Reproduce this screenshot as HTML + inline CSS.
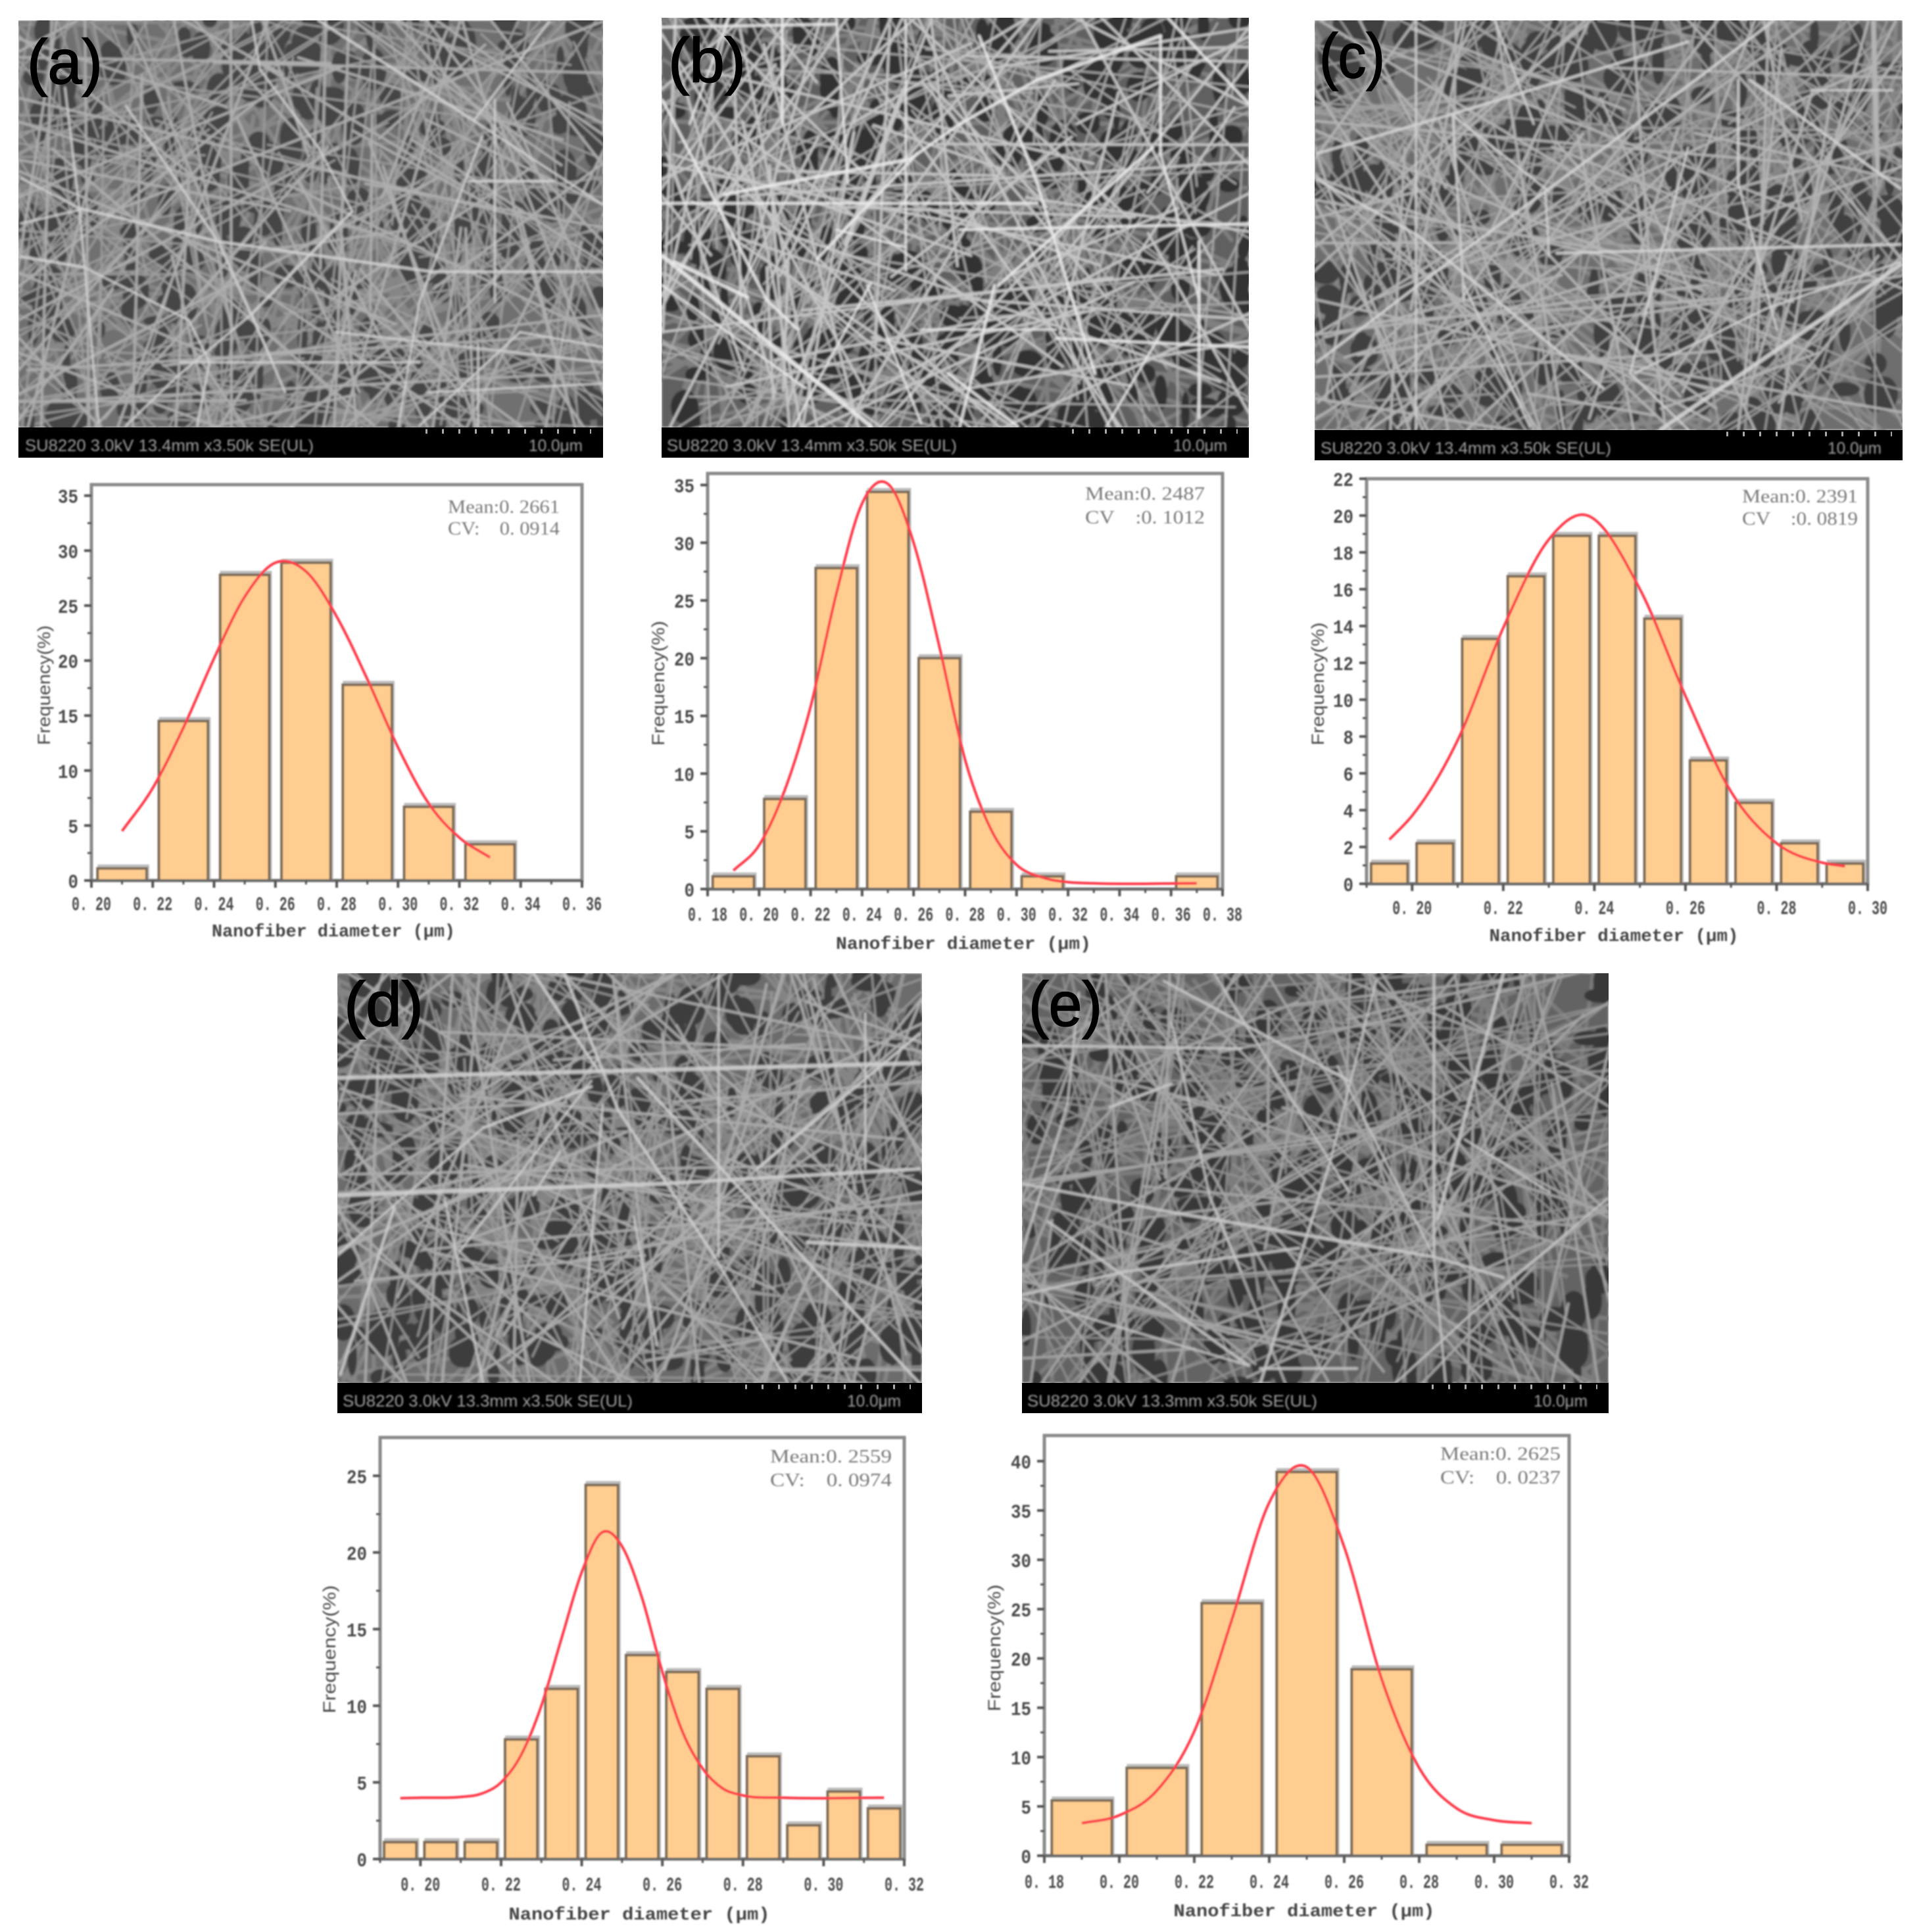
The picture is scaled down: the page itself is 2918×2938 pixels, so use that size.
<!DOCTYPE html>
<html lang="en">
<head>
<meta charset="utf-8">
<title>Nanofiber SEM images and diameter distributions</title>
<style>
html,body{margin:0;padding:0;background:#fff;}
svg{display:block;}
.tick{font-family:"Liberation Mono",monospace;font-size:30px;font-weight:bold;fill:#4a4a4a;}
.xtitle{font-family:"Liberation Mono",monospace;font-size:27px;font-weight:bold;fill:#444;text-anchor:middle;}
.ytitle{font-family:"Liberation Sans",sans-serif;font-size:27px;fill:#4a4a4a;text-anchor:middle;}
.stat{font-family:"Liberation Serif",serif;font-size:28px;fill:#7a7a7a;}
.strip{font-family:"Liberation Sans",sans-serif;font-size:25px;fill:#a0a0a0;}
.plabel{font-family:"Liberation Sans",sans-serif;font-size:96px;fill:#000;stroke:#000;stroke-width:1.5;}
</style>
</head>
<body>
<svg id="figure" xmlns="http://www.w3.org/2000/svg" width="2918" height="2938" viewBox="0 0 2918 2938">
<defs>
<filter id="soft-sem" x="0" y="0" width="1" height="1"><feGaussianBlur stdDeviation="1.7"/></filter>
<filter id="soft-chart" x="-0.05" y="-0.05" width="1.1" height="1.1"><feGaussianBlur stdDeviation="1.1"/></filter>
<filter id="soft-text" x="-0.05" y="-0.3" width="1.1" height="1.6"><feGaussianBlur stdDeviation="1.2"/></filter>
<clipPath id="clip-a"><rect x="28" y="31" width="889" height="619"/></clipPath>
<clipPath id="clip-b"><rect x="1006" y="27" width="893" height="623"/></clipPath>
<clipPath id="clip-c"><rect x="1999" y="31" width="894" height="623"/></clipPath>
<clipPath id="clip-d"><rect x="513" y="1480" width="889" height="623"/></clipPath>
<clipPath id="clip-e"><rect x="1554" y="1480" width="892" height="623"/></clipPath>
</defs>
<rect x="0" y="0" width="2918" height="2938" fill="#ffffff"/>

<g>
  <g id="sem-a" clip-path="url(#clip-a)"></g>
  <rect x="28" y="650" width="889" height="46" fill="#000"/>
  <line x1="647" y1="656" x2="899" y2="656" stroke="#aaa" stroke-width="7" stroke-dasharray="3 22"/>
  <text class="strip" filter="url(#soft-text)" x="38" y="686" textLength="439" lengthAdjust="spacingAndGlyphs">SU8220 3.0kV 13.4mm x3.50k SE(UL)</text>
  <text class="strip" filter="url(#soft-text)" x="804" y="686" textLength="82" lengthAdjust="spacingAndGlyphs">10.0μm</text>
  <text class="plabel" x="41" y="127" textLength="115" lengthAdjust="spacingAndGlyphs">(a)</text>
  <g id="chart-a" filter="url(#soft-chart)">
    <text class="xtitle" x="507" y="1424" textLength="370" lengthAdjust="spacingAndGlyphs">Nanofiber diameter (μm)</text>
    <text class="ytitle" transform="translate(76 1042) rotate(-90)" textLength="182" lengthAdjust="spacingAndGlyphs">Frequency(%)</text>
    <text class="stat" x="681" y="780" textLength="170" lengthAdjust="spacingAndGlyphs">Mean:0. 2661</text>
    <text class="stat" x="681" y="813" textLength="170" lengthAdjust="spacingAndGlyphs" xml:space="preserve">CV:    0. 0914</text>
  </g>
</g>

<g>
  <g id="sem-b" clip-path="url(#clip-b)"></g>
  <rect x="1006" y="650" width="893" height="46" fill="#000"/>
  <line x1="1630" y1="656" x2="1882" y2="656" stroke="#aaa" stroke-width="7" stroke-dasharray="3 22"/>
  <text class="strip" filter="url(#soft-text)" x="1014" y="686" textLength="441" lengthAdjust="spacingAndGlyphs">SU8220 3.0kV 13.4mm x3.50k SE(UL)</text>
  <text class="strip" filter="url(#soft-text)" x="1784" y="686" textLength="82" lengthAdjust="spacingAndGlyphs">10.0μm</text>
  <text class="plabel" x="1016" y="125" textLength="118" lengthAdjust="spacingAndGlyphs">(b)</text>
  <g id="chart-b" filter="url(#soft-chart)">
    <text class="xtitle" x="1465" y="1443" textLength="388" lengthAdjust="spacingAndGlyphs">Nanofiber diameter (μm)</text>
    <text class="ytitle" transform="translate(1010 1039) rotate(-90)" textLength="190" lengthAdjust="spacingAndGlyphs">Frequency(%)</text>
    <text class="stat" x="1650" y="760" textLength="182" lengthAdjust="spacingAndGlyphs">Mean:0. 2487</text>
    <text class="stat" x="1650" y="796" textLength="182" lengthAdjust="spacingAndGlyphs" xml:space="preserve">CV    :0. 1012</text>
  </g>
</g>

<g>
  <g id="sem-c" clip-path="url(#clip-c)"></g>
  <rect x="1999" y="654" width="894" height="46" fill="#000"/>
  <line x1="2625" y1="660" x2="2877" y2="660" stroke="#aaa" stroke-width="7" stroke-dasharray="3 22"/>
  <text class="strip" filter="url(#soft-text)" x="2008" y="690" textLength="442" lengthAdjust="spacingAndGlyphs">SU8220 3.0kV 13.4mm x3.50k SE(UL)</text>
  <text class="strip" filter="url(#soft-text)" x="2779" y="690" textLength="82" lengthAdjust="spacingAndGlyphs">10.0μm</text>
  <text class="plabel" x="2006" y="118" textLength="100" lengthAdjust="spacingAndGlyphs">(c)</text>
  <g id="chart-c" filter="url(#soft-chart)">
    <text class="xtitle" x="2454" y="1431" textLength="379" lengthAdjust="spacingAndGlyphs">Nanofiber diameter (μm)</text>
    <text class="ytitle" transform="translate(2013 1040) rotate(-90)" textLength="187" lengthAdjust="spacingAndGlyphs">Frequency(%)</text>
    <text class="stat" x="2649" y="764" textLength="176" lengthAdjust="spacingAndGlyphs">Mean:0. 2391</text>
    <text class="stat" x="2649" y="798" textLength="176" lengthAdjust="spacingAndGlyphs" xml:space="preserve">CV    :0. 0819</text>
  </g>
</g>

<g>
  <g id="sem-d" clip-path="url(#clip-d)"></g>
  <rect x="513" y="2103" width="889" height="46" fill="#000"/>
  <line x1="1133" y1="2109" x2="1385" y2="2109" stroke="#aaa" stroke-width="7" stroke-dasharray="3 22"/>
  <text class="strip" filter="url(#soft-text)" x="521" y="2139" textLength="441" lengthAdjust="spacingAndGlyphs">SU8220 3.0kV 13.3mm x3.50k SE(UL)</text>
  <text class="strip" filter="url(#soft-text)" x="1288" y="2139" textLength="82" lengthAdjust="spacingAndGlyphs">10.0μm</text>
  <text class="plabel" x="523" y="1560" textLength="121" lengthAdjust="spacingAndGlyphs">(d)</text>
  <g id="chart-d" filter="url(#soft-chart)">
    <text class="xtitle" x="972" y="2919" textLength="397" lengthAdjust="spacingAndGlyphs">Nanofiber diameter (μm)</text>
    <text class="ytitle" transform="translate(510 2508) rotate(-90)" textLength="195" lengthAdjust="spacingAndGlyphs">Frequency(%)</text>
    <text class="stat" x="1171" y="2224" textLength="185" lengthAdjust="spacingAndGlyphs">Mean:0. 2559</text>
    <text class="stat" x="1171" y="2260" textLength="185" lengthAdjust="spacingAndGlyphs" xml:space="preserve">CV:    0. 0974</text>
  </g>
</g>

<g>
  <g id="sem-e" clip-path="url(#clip-e)"></g>
  <rect x="1554" y="2103" width="892" height="46" fill="#000"/>
  <line x1="2177" y1="2109" x2="2429" y2="2109" stroke="#aaa" stroke-width="7" stroke-dasharray="3 22"/>
  <text class="strip" filter="url(#soft-text)" x="1562" y="2139" textLength="441" lengthAdjust="spacingAndGlyphs">SU8220 3.0kV 13.3mm x3.50k SE(UL)</text>
  <text class="strip" filter="url(#soft-text)" x="2332" y="2139" textLength="82" lengthAdjust="spacingAndGlyphs">10.0μm</text>
  <text class="plabel" x="1564" y="1560" textLength="112" lengthAdjust="spacingAndGlyphs">(e)</text>
  <g id="chart-e" filter="url(#soft-chart)">
    <text class="xtitle" x="1983" y="2914" textLength="397" lengthAdjust="spacingAndGlyphs">Nanofiber diameter (μm)</text>
    <text class="ytitle" transform="translate(1521 2506) rotate(-90)" textLength="193" lengthAdjust="spacingAndGlyphs">Frequency(%)</text>
    <text class="stat" x="2190" y="2220" textLength="183" lengthAdjust="spacingAndGlyphs">Mean:0. 2625</text>
    <text class="stat" x="2190" y="2256" textLength="183" lengthAdjust="spacingAndGlyphs" xml:space="preserve">CV:    0. 0237</text>
  </g>
</g>
</svg>

<script>
// ---------- chart data ----------
const aBinCenters = [0.21,0.23,0.25,0.27,0.29,0.31,0.33];
const aFrequency = [1.1,14.5,27.8,28.9,17.8,6.7,3.3];
const aCurveDiameter = [0.21,0.22,0.23,0.24,0.25,0.26,0.27,0.28,0.29,0.30,0.31,0.32,0.33];
const aCurveFrequency = [4.5,8.4,13.9,20.2,25.8,28.9,28.1,24,18.3,12.1,7,3.9,2.1];
const aXTickLabels = ['0. 20','0. 22','0. 24','0. 26','0. 28','0. 30','0. 32','0. 34','0. 36'];
const aXMinorTicks = [0.21,0.23,0.25,0.27,0.29,0.31,0.33,0.35];
const aYTickLabels = ['0','5','10','15','20','25','30','35'];
const aYMinorTicks = [2.5,7.5,12.5,17.5,22.5,27.5,32.5];

const bBinCenters = [0.19,0.21,0.23,0.25,0.27,0.29,0.31,0.33,0.35,0.37];
const bFrequency = [1.1,7.8,27.8,34.4,20,6.7,1.1,0,0,1.1];
const bCurveDiameter = [0.19,0.20,0.21,0.22,0.23,0.24,0.25,0.26,0.27,0.28,0.29,0.30,0.31,0.32,0.33,0.37];
const bCurveFrequency = [1.6,3.8,8.6,15.8,25.6,33.4,35.1,30,21,11.2,5.2,2.1,1,0.6,0.5,0.5];
const bXTickLabels = ['0. 18','0. 20','0. 22','0. 24','0. 26','0. 28','0. 30','0. 32','0. 34','0. 36','0. 38'];
const bXMinorTicks = [0.19,0.21,0.23,0.25,0.27,0.29,0.31,0.33,0.35,0.37];
const bYTickLabels = ['0','5','10','15','20','25','30','35'];
const bYMinorTicks = [2.5,7.5,12.5,17.5,22.5,27.5,32.5];

const cBinCenters = [0.195,0.205,0.215,0.225,0.235,0.245,0.255,0.265,0.275,0.285,0.295];
const cFrequency = [1.1,2.2,13.3,16.7,18.9,18.9,14.4,6.7,4.4,2.2,1.1];
const cCurveDiameter = [0.195,0.20,0.21,0.22,0.23,0.2375,0.25,0.26,0.27,0.28,0.29,0.295];
const cCurveFrequency = [2.4,3.7,7.8,13.9,18.7,20.05,16,10.2,5,2.2,1.15,0.95];
const cXTickLabels = ['0. 20','0. 22','0. 24','0. 26','0. 28','0. 30'];
const cXMinorTicks = [0.19,0.21,0.23,0.25,0.27,0.29];
const cYTickLabels = ['0','2','4','6','8','10','12','14','16','18','20','22'];
const cYMinorTicks = [1,3,5,7,9,11,13,15,17,19,21];

const dBinCenters = [0.195,0.205,0.215,0.225,0.235,0.245,0.255,0.265,0.275,0.285,0.295,0.305,0.315];
const dFrequency = [1.1,1.1,1.1,7.8,11.1,24.4,13.3,12.2,11.1,6.7,2.2,4.4,3.3];
const dCurveDiameter = [0.195,0.20,0.21,0.215,0.22,0.225,0.23,0.235,0.24,0.245,0.25,0.255,0.26,0.265,0.27,0.275,0.28,0.29,0.315];
const dCurveFrequency = [3.97,4,4.05,4.25,5,6.8,10,14.4,18.7,21.3,20.4,17,12.2,8.3,5.9,4.6,4.15,4,4];
const dXTickLabels = ['0. 20','0. 22','0. 24','0. 26','0. 28','0. 30','0. 32'];
const dXMinorTicks = [0.19,0.21,0.23,0.25,0.27,0.29,0.31];
const dYTickLabels = ['0','5','10','15','20','25'];
const dYMinorTicks = [2.5,7.5,12.5,17.5,22.5];

const eBinCenters = [0.19,0.21,0.23,0.25,0.27,0.29,0.31];
const eFrequency = [5.6,8.9,25.6,38.9,18.9,1.1,1.1];
const eCurveDiameter = [0.19,0.20,0.21,0.22,0.23,0.24,0.25,0.26,0.27,0.28,0.29,0.30,0.31];
const eCurveFrequency = [3.3,4.1,6.6,12.6,23.9,35.8,39.4,31.3,17.9,8.9,4.8,3.6,3.3];
const eXTickLabels = ['0. 18','0. 20','0. 22','0. 24','0. 26','0. 28','0. 30','0. 32'];
const eXMinorTicks = [0.19,0.21,0.23,0.25,0.27,0.29,0.31];
const eYTickLabels = ['0','5','10','15','20','25','30','35','40'];
const eYMinorTicks = [2.5,7.5,12.5,17.5,22.5,27.5,32.5,37.5];

const NS = 'http://www.w3.org/2000/svg';
function make(parent, tag, attrs) {
  const el = document.createElementNS(NS, tag);
  for (const k in attrs) el.setAttribute(k, attrs[k]);
  parent.appendChild(el);
  return el;
}

function drawChart(c) {
  const root = document.getElementById('chart-' + c.id);
  const xAt = v => c.left + (v - c.xMin) / (c.xMax - c.xMin) * (c.right - c.left);
  const yAt = v => c.bottom - (v - 0) / (c.yMax - 0) * (c.bottom - c.top);

  const frame = make(root, 'rect', {x: c.left, y: c.top, width: c.right - c.left, height: c.bottom - c.top, fill: 'none', stroke: '#8a8a8a', 'stroke-width': 5});
  
  

  c.bins.forEach((center, i) => {
    const v = c.freq[i];
    if (v <= 0) return;
    const x0 = xAt(center - c.binWidth / 2), x1 = xAt(center + c.binWidth / 2);
    const shade = make(root, 'rect', {x: x0 + 2, y: yAt(v) - 4, width: x1 - x0, height: yAt(0) - yAt(v) + 4, fill: 'none', stroke: '#bdbdbd', 'stroke-width': 4});
    
    
    const bar = make(root, 'rect', {x: x0, y: yAt(v), width: x1 - x0, height: yAt(0) - yAt(v), fill: '#ffcd90', stroke: '#7c6a56', 'stroke-width': 4});
    
    
  });

  const baseline = make(root, 'line', {x1: c.left, y1: c.bottom, x2: c.right, y2: c.bottom, stroke: '#6a6a6a', 'stroke-width': 4});
  
  

  c.xLabels.forEach(label => {
    const v = parseFloat(label.replace(/\s/g, ''));
    const t = make(root, 'line', {x1: xAt(v), y1: c.bottom, x2: xAt(v), y2: c.bottom + 11, stroke: '#555', 'stroke-width': 4});
    
    
    const txt = make(root, 'text', {x: xAt(v), y: c.bottom + c.xLabelOffset + 11, 'text-anchor': 'middle', class: 'tick', textLength: 60, lengthAdjust: 'spacingAndGlyphs', 'xml:space': 'preserve'});
    
    
    txt.textContent = label;
  });
  c.xMinor.forEach(v => {
    const t = make(root, 'line', {x1: xAt(v), y1: c.bottom, x2: xAt(v), y2: c.bottom + 6, stroke: '#555', 'stroke-width': 3});
    
    
  });
  c.yLabels.forEach(label => {
    const v = Number(label);
    const t = make(root, 'line', {x1: c.left - 11, y1: yAt(v), x2: c.left, y2: yAt(v), stroke: '#555', 'stroke-width': 4});
    
    
    const txt = make(root, 'text', {x: c.left - 20, y: yAt(v) + 11, 'text-anchor': 'end', class: 'tick', textLength: label.length * 15.5, lengthAdjust: 'spacingAndGlyphs'});
    
    
    txt.textContent = label;
  });
  c.yMinor.forEach(v => {
    const t = make(root, 'line', {x1: c.left - 6, y1: yAt(v), x2: c.left, y2: yAt(v), stroke: '#555', 'stroke-width': 3});
    
    
  });

  const pts = c.curveX.map((x, i) => [xAt(x), yAt(c.curveY[i])]);
  const n = pts.length;
  const chord = i => (pts[i + 1][1] - pts[i][1]) / (pts[i + 1][0] - pts[i][0]);
  const slope = i => {
    if (i === 0) return chord(0);
    if (i === n - 1) return chord(n - 2);
    const h0 = pts[i][0] - pts[i - 1][0], h1 = pts[i + 1][0] - pts[i][0];
    return (h1 * chord(i - 1) + h0 * chord(i)) / (h0 + h1);
  };
  let d = 'M' + pts[0][0].toFixed(1) + ' ' + pts[0][1].toFixed(1);
  for (let i = 0; i < n - 1; i++) {
    const h = pts[i + 1][0] - pts[i][0];
    d += ' C' + (pts[i][0] + h / 3).toFixed(1) + ' ' + (pts[i][1] + slope(i) * h / 3).toFixed(1) + ' ' +
      (pts[i + 1][0] - h / 3).toFixed(1) + ' ' + (pts[i + 1][1] - slope(i + 1) * h / 3).toFixed(1) + ' ' +
      pts[i + 1][0].toFixed(1) + ' ' + pts[i + 1][1].toFixed(1);
  }
  const curve = make(root, 'path', {d: d, fill: 'none', stroke: '#ff3a4a', 'stroke-width': 4});
  
  
}

drawChart({id:'a', left:139, right:885, top:737, bottom:1339, xMin:0.20, xMax:0.36, yMax:36, binWidth:0.016, xLabelOffset:34,
  bins:aBinCenters, freq:aFrequency, curveX:aCurveDiameter, curveY:aCurveFrequency, xLabels:aXTickLabels, xMinor:aXMinorTicks, yLabels:aYTickLabels, yMinor:aYMinorTicks});
drawChart({id:'b', left:1076, right:1859, top:720, bottom:1352, xMin:0.18, xMax:0.38, yMax:36, binWidth:0.016, xLabelOffset:37,
  bins:bBinCenters, freq:bFrequency, curveX:bCurveDiameter, curveY:bCurveFrequency, xLabels:bXTickLabels, xMinor:bXMinorTicks, yLabels:bYTickLabels, yMinor:bYMinorTicks});
drawChart({id:'c', left:2078, right:2840, top:728, bottom:1344, xMin:0.19, xMax:0.30, yMax:22, binWidth:0.008, xLabelOffset:35,
  bins:cBinCenters, freq:cFrequency, curveX:cCurveDiameter, curveY:cCurveFrequency, xLabels:cXTickLabels, xMinor:cXMinorTicks, yLabels:cYTickLabels, yMinor:cYMinorTicks});
drawChart({id:'d', left:578, right:1375, top:2186, bottom:2827, xMin:0.19, xMax:0.32, yMax:27.5, binWidth:0.008, xLabelOffset:37,
  bins:dBinCenters, freq:dFrequency, curveX:dCurveDiameter, curveY:dCurveFrequency, xLabels:dXTickLabels, xMinor:dXMinorTicks, yLabels:dYTickLabels, yMinor:dYMinorTicks});
drawChart({id:'e', left:1588, right:2386, top:2183, bottom:2822, xMin:0.18, xMax:0.32, yMax:42.6, binWidth:0.016, xLabelOffset:38,
  bins:eBinCenters, freq:eFrequency, curveX:eCurveDiameter, curveY:eCurveFrequency, xLabels:eXTickLabels, xMinor:eXMinorTicks, yLabels:eYTickLabels, yMinor:eYMinorTicks});

// ---------- SEM photo texture (decorative, hand-traced main fibers plus seeded fine mesh) ----------
const tracedA = [[155,290,190,700,3],[190,700,235,1400,3],[190,690,520,800,4],[50,590,190,690,3],[190,695,50,740,3],[300,350,520,800,3],[520,800,650,1200,3],[760,68,1130,400,4],[1130,400,1440,680,3],[600,68,620,230,3],[620,230,760,490,3],[760,490,840,700,3],[50,850,200,885,4],[200,885,450,1060,3],[450,1060,500,1200,3],[500,1200,470,1410,3],[1030,900,1440,900,4],[1120,600,1320,600,4],[1180,330,1180,1000,3],[1150,450,1000,1000,3],[1000,1000,950,1410,3],[840,700,600,1040,4],[600,1040,420,1250,3],[420,1250,300,1410,3],[600,1040,680,1300,3],[520,800,1030,900,4],[1310,70,1130,400,3],[1140,1140,1140,1410,3],[800,1100,1440,1200,3],[1020,1300,1440,1270,3],[1000,1410,1240,1100,3],[1240,1100,1440,1150,3],[430,1200,1000,1200,3]];
const tracedB = [[30,320,300,1000,4],[300,1000,380,1100,4],[30,850,570,1430,6],[30,950,400,1300,3],[60,870,250,990,5],[190,640,670,520,5],[670,520,800,400,4],[800,400,1000,250,4],[1000,250,1320,100,5],[1340,40,1548,330,4],[850,100,1000,600,4],[1000,600,1150,1250,4],[480,40,510,600,3],[660,40,660,900,3],[1320,100,1320,500,4],[1320,500,1420,1000,3],[430,860,690,500,4],[30,670,1000,670,4],[800,760,1548,740,4],[1420,800,1420,1400,4],[570,940,370,1430,3],[560,950,700,1420,3],[770,1250,950,1430,4],[890,950,800,1430,4],[1300,480,900,950,4],[700,1100,1050,1100,3],[1050,1130,1548,1160,4],[1350,1050,1180,1430,3],[200,40,100,400,3],[340,40,340,400,4],[30,70,480,60,4],[660,820,480,760,3]];
const tracedC = [[40,1210,400,850,4],[400,850,630,630,4],[630,630,1040,230,4],[1040,230,1220,50,4],[40,500,380,370,4],[380,370,1000,120,4],[40,590,300,780,4],[300,780,780,1300,4],[390,370,640,630,3],[930,1440,1550,880,6],[295,50,295,1440,3],[630,630,640,850,3],[1130,250,1130,600,4],[1130,600,1230,1100,3],[1160,250,1550,620,4],[660,840,1550,810,4],[860,1250,1200,1030,3],[1200,1030,1550,870,3],[1000,480,850,1250,3],[850,1250,1000,1440,3],[500,50,600,400,3],[390,370,420,1000,3],[1320,285,1530,285,3],[420,950,590,1430,3]];
const tracedD = [[610,33,750,500,4],[750,500,1000,1000,4],[1000,1000,1190,1430,3],[25,390,1530,340,6],[25,790,870,750,6],[870,750,1530,700,5],[800,390,1530,1430,4],[340,980,680,400,3],[25,990,190,800,3],[190,800,400,560,3],[400,560,680,420,4],[170,830,30,1400,4],[300,800,400,1430,3],[1390,170,1390,700,3],[1530,240,1110,700,4],[1240,950,1530,970,5],[1010,40,1010,1000,3],[710,480,650,1430,3],[600,640,530,790,3],[790,860,850,1300,3],[530,33,700,370,4]];
const tracedE = [[400,60,880,400,4],[530,33,880,780,3],[30,280,600,290,4],[1100,33,1100,1000,4],[1100,1000,1130,1430,3],[1280,33,1110,870,5],[950,60,830,680,3],[830,680,650,1430,4],[30,750,430,850,4],[430,850,1100,1000,5],[1100,1000,1280,1070,4],[180,100,150,480,3],[150,480,30,1000,3],[30,1130,300,1050,4],[300,1050,750,970,4],[100,880,620,1370,4],[30,1140,620,1370,3],[650,1380,900,1380,4],[1180,600,1400,780,3],[1550,800,1200,1190,3],[1200,1190,1000,1430,3],[420,200,520,800,3],[520,800,600,1050,3],[850,350,1100,1000,3],[260,490,420,410,4]];

function drawSem(p) {
  const root = document.getElementById('sem-' + p.id);
  const soft = make(root, 'g', {filter: 'url(#soft-sem)'});
  
  
  const bg = make(soft, 'rect', {x: p.x, y: p.y, width: p.w, height: p.h, fill: p.bg});
  
  
  let s = p.seed;
  const rnd = () => { s = (s * 1664525 + 1013904223) % 4294967296; return s / 4294967296; };
  const mesh = (count, color, width, minLen, maxLen) => {
    let d = '';
    for (let i = 0; i < count; i++) {
      const cx = p.x + rnd() * p.w, cy = p.y + rnd() * p.h, a = rnd() * Math.PI, l = minLen + rnd() * (maxLen - minLen);
      d += 'M' + (cx - Math.cos(a) * l).toFixed(0) + ' ' + (cy - Math.sin(a) * l).toFixed(0) + 'L' + (cx + Math.cos(a) * l).toFixed(0) + ' ' + (cy + Math.sin(a) * l).toFixed(0);
    }
    const m = make(soft, 'path', {d: d, fill: 'none', stroke: color, 'stroke-width': width});
    
    
  };

  mesh(110, p.lowColor, 6, 150, 600);

  let gaps = '';
  for (let i = 0; i < p.gaps; i++) {
    const cx = p.x + rnd() * p.w, cy = p.y + rnd() * p.h, rx = 6 + rnd() * 18, ry = 8 + rnd() * 26;
    gaps += 'M' + (cx - rx).toFixed(0) + ' ' + cy.toFixed(0) + 'a' + rx.toFixed(0) + ' ' + ry.toFixed(0) + ' 0 1 0 ' + (2 * rx).toFixed(0) + ' 0a' + rx.toFixed(0) + ' ' + ry.toFixed(0) + ' 0 1 0 ' + (-2 * rx).toFixed(0) + ' 0';
  }
  const gapPath = make(soft, 'path', {d: gaps, fill: p.gapColor});
  
  

  mesh(p.fine, p.fineColor, 2.6, 80, 420);
  mesh(p.mid, p.midColor, 3.6, 100, 480);

  p.traced.forEach(t => {
    const f = make(soft, 'line', {x1: p.ox + t[0] / p.sx, y1: p.oy + t[1] / p.sy, x2: p.ox + t[2] / p.sx, y2: p.oy + t[3] / p.sy, stroke: p.bright, 'stroke-width': t[4], 'stroke-linecap': 'round', opacity: 0.9});
    
    
  });
}

drawSem({id:'a', x:28, y:31, w:889, h:619, ox:0, oy:0, sx:1.568, sy:2.178, seed:11, bg:'#707070', lowColor:'#868686', gaps:340, gapColor:'#444444', fine:190, fineColor:'#9e9e9e', mid:85, midColor:'#aeaeae', bright:'#d4d4d4', traced:tracedA});
drawSem({id:'b', x:1006, y:27, w:893, h:623, ox:990, oy:10, sx:1.704, sy:2.24, seed:23, bg:'#606060', lowColor:'#7e7e7e', gaps:360, gapColor:'#303030', fine:180, fineColor:'#ababab', mid:85, midColor:'#c6c6c6', bright:'#ececec', traced:tracedB});
drawSem({id:'c', x:1999, y:31, w:894, h:623, ox:1980, oy:10, sx:1.704, sy:2.24, seed:37, bg:'#6e6e6e', lowColor:'#868686', gaps:340, gapColor:'#404040', fine:190, fineColor:'#a0a0a0', mid:85, midColor:'#b4b4b4', bright:'#d6d6d6', traced:tracedC});
drawSem({id:'d', x:513, y:1480, w:889, h:623, ox:500, oy:1465, sx:1.704, sy:2.24, seed:41, bg:'#6c6c6c', lowColor:'#848484', gaps:340, gapColor:'#3c3c3c', fine:190, fineColor:'#9a9a9a', mid:85, midColor:'#acacac', bright:'#d0d0d0', traced:tracedD});
drawSem({id:'e', x:1554, y:1480, w:892, h:623, ox:1535, oy:1465, sx:1.704, sy:2.24, seed:53, bg:'#646464', lowColor:'#7c7c7c', gaps:340, gapColor:'#383838', fine:180, fineColor:'#929292', mid:85, midColor:'#a4a4a4', bright:'#c8c8c8', traced:tracedE});

// move each photo texture below its info bar and panel letter
['a','b','c','d','e'].forEach(id => {
  const sem = document.getElementById('sem-' + id);
  sem.parentNode.insertBefore(sem, sem.parentNode.firstChild);
});
</script>
</body>
</html>
